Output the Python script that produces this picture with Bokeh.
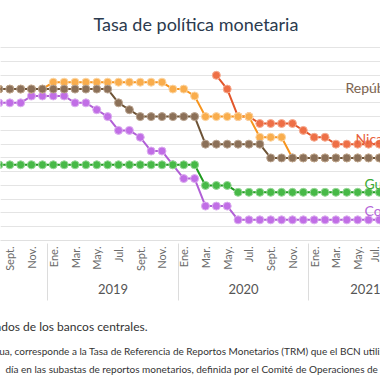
import math
import numpy as np
import pandas as pd
from bokeh.plotting import figure
from bokeh.models import Range1d, FixedTicker, LinearAxis, Grid, Label, ColumnDataSource, Title
from bokeh.embed import file_html
from bokeh.resources import INLINE

# ---------------- data ----------------
MONTHS = pd.period_range("2018-08", "2021-08", freq="M")  # monthly categories
MONTH_ABBR = ["Ene.", "Feb.", "Mar.", "Abr.", "May.", "Jun.",
              "Jul.", "Ago.", "Sept.", "Oct.", "Nov.", "Dic."]
YEARS = ["2018", "2019", "2020", "2021"]

NAN = float("nan")
rep_dominicana = [5.5, 5.5, 5.5, 5.5, 5.5, 5.5, 5.5, 5.5, 5.5, 5.5, 5.5,
                  5.0, 4.75, 4.5, 4.5, 4.5, 4.5, 4.5, 4.5,
                  3.5, 3.5, 3.5, 3.5, 3.5, 3.5,
                  3.0, 3.0, 3.0, 3.0, 3.0, 3.0, 3.0, 3.0, 3.0, 3.0, 3.0, 3.0]
honduras = [5.5, 5.5, 5.5, 5.5, 5.5,
            5.75, 5.75, 5.75, 5.75, 5.75, 5.75, 5.75, 5.75, 5.75, 5.75, 5.75,
            5.5, 5.5, 5.25, 4.5, 4.5, 4.5, 4.5, 4.5,
            3.75, 3.75, 3.75,
            3.0, 3.0, 3.0, 3.0, 3.0, 3.0, 3.0, 3.0, 3.0, 3.0]
costa_rica = [5.0, 5.0, 5.0, 5.25, 5.25, 5.25, 5.25, 5.0, 5.0, 4.75, 4.5,
              4.0, 4.0, 3.75, 3.25, 3.25, 2.75, 2.25, 2.25, 1.25, 1.25, 1.25,
              0.75, 0.75, 0.75, 0.75, 0.75, 0.75, 0.75, 0.75, 0.75, 0.75,
              0.75, 0.75, 0.75, 0.75, 0.75]
guatemala = [2.75] * 19 + [2.0, 2.0, 2.0] + [1.75] * 15
nicaragua = [NAN] * 20 + [6.0, 5.5, 4.5, 4.5, 4.25, 4.25, 4.25, 4.25,
                          4.0, 3.75, 3.75, 3.5, 3.5, 3.5, 3.5, 3.5, 3.5]

# month index relative to Ene. 2019
x_idx = [(p.year - 2019) * 12 + (p.month - 1) for p in MONTHS]

# ---------------- figure ----------------
FONT = "Lato"
p = figure(width=380, height=380,
           x_range=Range1d(-4.857, 30.101), y_range=Range1d(0, 7.265),
           output_backend="svg", toolbar_location=None,
           y_axis_location=None, min_border=0,
           min_border_left=0, min_border_right=0,
           min_border_top=40, min_border_bottom=140,
           outline_line_color=None,
           background_fill_color="white", border_fill_color="white")
p.xgrid.visible = False

p.title.text = "Tasa de política monetaria"
p.title.align = "left"
p.title.offset = 93
p.title.standoff = 12
p.title.text_font = FONT
p.title.text_font_size = "18px"
p.title.text_font_style = "normal"
p.title.text_color = "#2b3a4e"

ygrid = Grid(dimension=1, ticker=FixedTicker(ticks=[i * 0.5 for i in range(15)]),
             grid_line_color="#e4e4e4", grid_line_width=1)
p.add_layout(ygrid)

series = [
    ("Costa Rica", costa_rica, "#b160d6", "#c16ee6", "#dcaef0"),
    ("Nicaragua", nicaragua, "#e2562b", "#ee6f46", "#f6ad93"),
    ("Honduras", honduras, "#f7941d", "#f9ad4d", "#fcd6a4"),
    ("República Dominicana", rep_dominicana, "#6e5437", "#8b7058", "#baa490"),
    ("Guatemala", guatemala, "#1f9a1f", "#47b947", "#98d898"),
]
for name, vals, lc, fc, oc in series:
    src = ColumnDataSource(dict(x=x_idx, y=vals))
    p.line("x", "y", source=src, line_color=lc, line_width=2)
    p.scatter("x", "y", source=src, size=8, fill_color=fc, line_color=oc, line_width=1)

# ---------------- axes ----------------
tick_months = [m for m in x_idx if m % 2 == 0]
xa = p.xaxis[0]
xa.ticker = FixedTicker(ticks=tick_months, minor_ticks=[])
xa.major_label_overrides = {m: MONTH_ABBR[m % 12] for m in tick_months}
xa.major_label_orientation = math.pi / 2
xa.major_tick_line_color = None
xa.minor_tick_line_color = None
xa.major_tick_in = 0
xa.major_tick_out = 0
xa.minor_tick_in = 0
xa.minor_tick_out = 0
xa.axis_line_color = "#e0e0e0"
xa.major_label_text_font = FONT
xa.major_label_text_font_size = "11px"
xa.major_label_text_color = "#6b6b6b"
xa.major_label_standoff = 6

year_ticks = [(int(y) - 2019) * 12 + 5.5 for y in YEARS]
year_bounds = [(int(y) - 2019) * 12 - 0.5 for y in YEARS]
ya = LinearAxis(ticker=FixedTicker(ticks=year_ticks, minor_ticks=year_bounds))
ya.major_label_overrides = {t: y for t, y in zip(year_ticks, YEARS)}
ya.axis_line_color = None
ya.major_tick_line_color = None
ya.major_tick_in = 0
ya.major_tick_out = 0
ya.minor_tick_in = 30
ya.minor_tick_out = 27
ya.minor_tick_line_color = "#dcdcdc"
ya.major_label_text_font = FONT
ya.major_label_text_font_size = "13px"
ya.major_label_text_color = "#555555"
ya.major_label_standoff = -17
ya.axis_label = " "
ya.axis_label_standoff = 10
ya.axis_label_text_font_size = "2px"
p.add_layout(ya, "below")

# ---------------- texts ----------------
labels = [
    ("República Dominicana", 26.88, 5.558, "#7d6450"),
    ("Nicaragua", 27.80, 3.705, "#e8603c"),
    ("Guatemala", 28.63, 2.07, "#3aaa35"),
    ("Costa Rica", 28.63, 1.09, "#b566d8"),
]
for txt, lx, ly, col in labels:
    p.add_layout(Label(x=lx, y=ly, text=txt, text_align="left",
                       text_baseline="alphabetic", text_font=FONT,
                       text_font_size="14px", text_color=col))

notes = [
    ("Fuente: elaboración propia con datos publicados de los bancos centrales.",
     "right", 233, "12px", 11.2),
    ("Nota: para el caso de Nicaragua, corresponde a la Tasa de Referencia de Reportos Monetarios (TRM) que el BCN utiliza",
     "left", -129, "10px", 5.8),
    ("día en las subastas de reportos monetarios, definida por el Comité de Operaciones de Mercado Abierto.",
     "left", 5, "10px", 4.2),
]
for txt, al, off, fs, so in notes:
    p.add_layout(Title(text=txt, align=al, offset=off, standoff=so,
                       text_font=FONT, text_font_size=fs, text_font_style="normal",
                       text_color="#333333"), "below")

open("out.html", "w").write(file_html(p, INLINE))
